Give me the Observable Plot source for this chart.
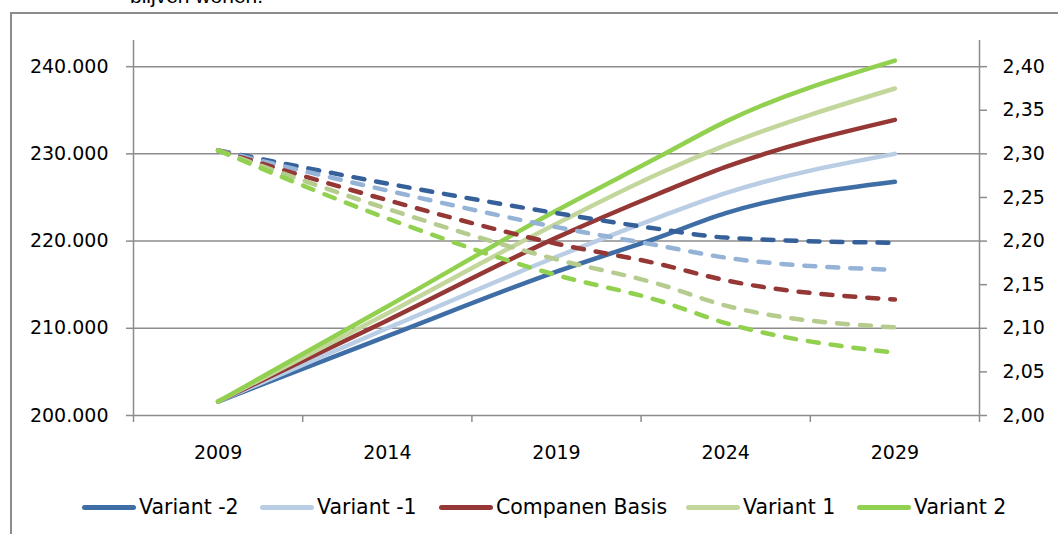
<!DOCTYPE html>
<html>
<head>
<meta charset="utf-8">
<script src="https://cdn.jsdelivr.net/npm/d3@7"></script>
<script src="https://cdn.jsdelivr.net/npm/@observablehq/plot@0.6"></script>
<style>
  html, body { margin: 0; padding: 0; background: #fff; width: 1058px; height: 534px; overflow: hidden; }
  #frame { position: absolute; left: 10px; top: 12px; width: 2000px; height: 2000px;
           border-left: 2px solid #8c8c8c; border-top: 2px solid #8c8c8c; }
  #toptext { position: absolute; left: 130px; top: -15px; font-family: "Liberation Sans", Arial, sans-serif;
             font-size: 21px; line-height: 1; color: #000; white-space: nowrap; }
  #chart { position: absolute; left: 0; top: 0; }
  .leg { position: absolute; top: 493px; height: 28px; font-family: "DejaVu Sans", sans-serif;
         font-size: 20.5px; line-height: 28px; color: #000; white-space: nowrap; }
  .sw { position: absolute; top: 505px; height: 5px; border-radius: 3px; }
</style>
</head>
<body>
<div id="frame"></div>
<div id="toptext">blijven wonen.</div>
<div id="chart"></div>
<div id="legend"></div>
<script>
// ---- data ----
const years = [2009, 2014, 2019, 2022, 2024, 2029];
const seriesNames = ["Variant -2", "Variant -1", "Companen Basis", "Variant 1", "Variant 2"];
// population (left axis, solid)
const popVarMin2 = [201600, 209100, 216500, 220400, 223200, 226800];
const popVarMin1 = [201600, 210000, 218200, 222700, 225500, 230000];
const popBasis   = [201600, 210900, 220400, 225400, 228500, 233900];
const popVar1    = [201600, 211700, 222000, 227700, 231000, 237500];
const popVar2    = [201600, 212500, 223500, 229600, 233700, 240700];
// household size (right axis, dashed)
const hhVarMin2 = [2.304, 2.266, 2.232, 2.214, 2.204, 2.198];
const hhVarMin1 = [2.304, 2.258, 2.216, 2.195, 2.181, 2.167];
const hhBasis   = [2.304, 2.247, 2.197, 2.174, 2.155, 2.133];
const hhVar1    = [2.304, 2.237, 2.179, 2.151, 2.126, 2.101];
const hhVar2    = [2.304, 2.226, 2.161, 2.132, 2.106, 2.072];
// ticks
const xTickYears = [2009, 2014, 2019, 2024, 2029];
const leftTicks = [200000, 210000, 220000, 230000, 240000];
const rightTicks = [2.00, 2.05, 2.10, 2.15, 2.20, 2.25, 2.30, 2.35, 2.40];

// ---- styling ----
const solidColors  = ["#3F6EA6", "#B9CDE5", "#953735", "#C3D69B", "#92D050"];
const dashedColors = ["#36609A", "#95B3D7", "#953735", "#B5CC8E", "#92D050"];
const grid = "#8c8c8c";

const popSeries = [popVarMin2, popVarMin1, popBasis, popVar1, popVar2];
const hhSeries  = [hhVarMin2, hhVarMin1, hhBasis, hhVar1, hhVar2];

const popRows = [], hhRows = [];
seriesNames.forEach((name, i) => {
  years.forEach((yr, j) => {
    popRows.push({name, i, year: yr, v: popSeries[i][j]});
    hhRows.push({name, i, year: yr, v: hhSeries[i][j]});
  });
});

// right axis maps onto left scale: 2,00 -> 200000, 0,05 -> 5000
const toLeft = v => 200000 + (v - 2) * 100000;
const fromLeft = d => 2 + (d - 200000) / 100000;
const fmtL = d => d3.format(",")(d).replace(/,/g, ".");
const fmtR = d => d3.format(".2f")(fromLeft(d)).replace(".", ",");

const xMin = 2006.5, xMax = 2031.5;
const boundaries = d3.range(xMin, xMax + 0.01, 5);

const marks = [
  Plot.ruleY(leftTicks.slice(1), {x1: xMin, x2: xMax, stroke: grid, strokeWidth: 1.5}),
  Plot.ruleY([200000], {x1: xMin, x2: xMax, stroke: grid, strokeWidth: 1.5}),
  Plot.ruleX([xMin, xMax], {y1: 200000, y2: 243000, stroke: grid, strokeWidth: 1.5}),
  Plot.axisY(leftTicks, {anchor: "left", tickSize: 7, tickPadding: 18, tickFormat: fmtL, stroke: grid, strokeWidth: 1.5, fill: "#000", fontSize: 19, label: null}),
  Plot.axisY(rightTicks.map(toLeft), {anchor: "right", tickSize: 7, tickPadding: 16, tickFormat: fmtR, stroke: grid, strokeWidth: 1.5, fill: "#000", fontSize: 19, label: null}),
  Plot.axisX(xTickYears, {anchor: "bottom", tickSize: 0, tickPadding: 30, tickFormat: d => String(d), fill: "#000", fontSize: 19, label: null}),
  Plot.axisX(boundaries, {anchor: "bottom", tickSize: 7, tickFormat: () => "", stroke: grid, strokeWidth: 1.5, label: null})
];

seriesNames.forEach((name, i) => {
  marks.push(Plot.line(popRows.filter(d => d.i === i), {
    x: "year", y: "v", stroke: solidColors[i], strokeWidth: 4.5, curve: "monotone-x",
    strokeLinecap: "round", strokeLinejoin: "round"
  }));
});
seriesNames.forEach((name, i) => {
  marks.push(Plot.line(hhRows.filter(d => d.i === i), {
    x: "year", y: d => toLeft(d.v), stroke: dashedColors[i], strokeWidth: 4.5, curve: "monotone-x",
    strokeDasharray: "11,12", strokeLinecap: "round", strokeLinejoin: "round"
  }));
});

const chart = Plot.plot({
  width: 1058,
  height: 470,
  marginLeft: 133,
  marginRight: 79,
  marginTop: 40,
  marginBottom: 55,
  style: {fontFamily: "DejaVu Sans, Verdana, sans-serif", fontSize: "19px", background: "transparent", overflow: "visible"},
  x: {domain: [xMin, xMax], axis: null},
  y: {domain: [200000, 243000], axis: null},
  marks
});
document.getElementById("chart").appendChild(chart);

// ---- legend ----
const legSw = [82, 260, 439, 686, 857];
const leg = document.getElementById("legend");
seriesNames.forEach((name, i) => {
  const sw = document.createElement("div");
  sw.className = "sw";
  sw.style.left = legSw[i] + "px";
  sw.style.width = "54px";
  sw.style.background = solidColors[i];
  leg.appendChild(sw);
  const t = document.createElement("div");
  t.className = "leg";
  t.style.left = (legSw[i] + 57) + "px";
  t.textContent = name;
  leg.appendChild(t);
});
</script>
</body>
</html>
